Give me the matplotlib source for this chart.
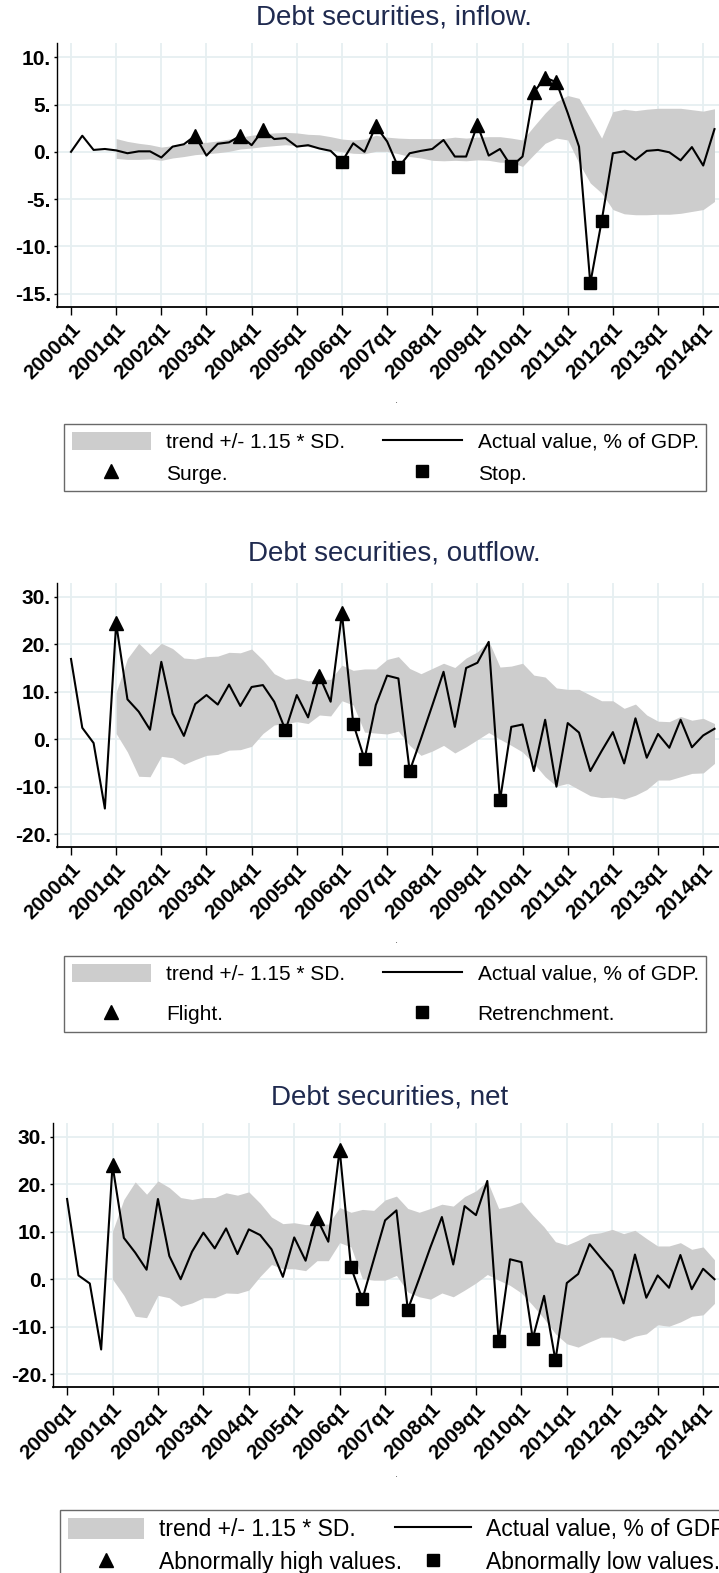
import numpy as np
import matplotlib
matplotlib.use("Agg")
import matplotlib.pyplot as plt

plt.rcParams["font.family"] = ["Liberation Sans", "DejaVu Sans"]

# quarters 2000q1 .. 2014q2
n_q = 58
quarters = np.arange(n_q)
year_ticks = np.arange(0, 57, 4)
year_labels = [f"{2000 + k}q1" for k in range(15)]

nan = np.nan

# ---- inflow ----
inflow = [0.0, 1.7, 0.2, 0.3, 0.15, -0.15, 0.05, 0.05, -0.6, 0.55,
          0.8, 1.7, -0.4, 0.85, 1.0, 1.7, 0.7, 2.3, 1.35, 1.45,
          0.55, 0.7, 0.35, 0.1, -1.05, 0.9, 0.0, 2.7, 1.1, -1.65,
          -0.15, 0.1, 0.3, 1.25, -0.5, -0.5, 2.85, -0.4, 0.3, -1.55,
          -0.5, 6.3, 7.85, 7.35, 4.1, 0.55, -13.9, -7.35, -0.15, 0.05,
          -0.85, 0.1, 0.2, -0.05, -0.9, 0.5, -1.45, 2.4]
inflow_hi = [nan, nan, nan, nan, 1.4, 1.1, 0.9, 0.75, 0.5, 0.65,
             0.8, 1.0, 1.0, 1.15, 1.35, 1.55, 1.75, 1.9, 2.0, 2.05,
             2.0, 1.85, 1.8, 1.6, 1.35, 1.25, 1.35, 1.75, 1.55, 1.45,
             1.4, 1.4, 1.4, 1.4, 1.55, 1.45, 1.55, 1.6, 1.6, 1.45,
             1.25, 2.7, 4.1, 5.3, 5.95, 5.65, 3.55, 1.45, 4.25, 4.5,
             4.35, 4.5, 4.6, 4.6, 4.6, 4.45, 4.3, 4.55]
inflow_lo = [nan, nan, nan, nan, -0.7, -0.8, -0.8, -0.75, -0.9, -0.65,
             -0.5, -0.3, -0.2, -0.1, 0.05, 0.3, 0.4, 0.55, 0.65, 0.75,
             0.65, 0.55, 0.4, 0.2, 0.0, -0.15, -0.2, 0.05, 0.05, -0.2,
             -0.5, -0.65, -0.9, -0.95, -0.9, -0.95, -0.85, -0.9, -1.1, -1.1,
             -1.55, -0.3, 0.9, 1.45, 1.25, -1.2, -3.3, -4.35, -6.1, -6.55,
             -6.65, -6.65, -6.6, -6.6, -6.5, -6.3, -6.1, -5.25]
inflow_high_idx = [11, 15, 17, 27, 36, 41, 42, 43]
inflow_low_idx = [24, 29, 39, 46, 47]

# ---- outflow ----
outflow = [16.9, 2.4, -0.8, -14.6, 24.4, 8.4, 5.8, 2.0, 16.3, 5.4,
           0.7, 7.4, 9.3, 7.3, 11.5, 7.0, 11.0, 11.4, 7.9, 1.9,
           9.3, 4.6, 13.3, 7.9, 26.5, 3.3, -4.2, 7.2, 13.4, 12.8,
           -6.7, 0.1, 7.1, 14.2, 2.6, 15.0, 16.1, 20.5, -12.9, 2.6,
           3.1, -6.7, 4.1, -10.0, 3.4, 1.4, -6.7, -2.5, 1.5, -5.1,
           4.4, -3.9, 1.1, -1.8, 4.1, -1.7, 0.8, 2.2]
outflow_hi = [nan, nan, nan, nan, 9.9, 17.0, 20.2, 17.9, 20.2, 19.1,
              17.1, 16.9, 17.4, 17.5, 18.3, 18.2, 19.0, 16.7, 13.8, 12.6,
              12.9, 12.3, 12.6, 12.6, 15.6, 14.5, 14.8, 14.8, 16.8, 17.4,
              14.9, 13.8, 14.9, 16.0, 15.1, 17.1, 18.4, 20.7, 15.2, 15.4,
              16.0, 13.5, 13.1, 10.8, 10.5, 10.5, 9.3, 8.1, 8.1, 6.5,
              7.4, 5.1, 3.8, 3.7, 4.8, 4.0, 4.4, 3.3]
outflow_lo = [nan, nan, nan, nan, 1.2, -2.7, -7.8, -7.9, -3.6, -3.9,
              -5.3, -4.3, -3.4, -3.2, -2.3, -2.2, -1.5, 1.2, 3.0, 3.3,
              3.7, 3.3, 5.1, 4.9, 8.1, 7.2, 1.5, 1.3, 1.1, 1.7,
              -1.3, -3.4, -2.5, -1.3, -2.9, -1.6, -0.1, 1.4, 0.0, -1.3,
              -2.7, -5.1, -7.9, -9.9, -9.3, -10.6, -11.9, -12.3, -12.2, -12.6,
              -11.8, -10.6, -8.6, -8.6, -7.9, -7.2, -7.1, -5.1]
outflow_high_idx = [4, 22, 24]
outflow_low_idx = [19, 25, 26, 30, 38]

# ---- net ----
net = [16.9, 0.8, -0.9, -14.8, 24.0, 8.7, 5.6, 2.0, 16.9, 4.9,
       0.0, 5.8, 9.8, 6.5, 10.7, 5.3, 10.5, 9.3, 6.3, 0.5,
       8.8, 3.9, 12.8, 7.9, 27.3, 2.5, -4.2, 4.1, 12.4, 14.5,
       -6.4, 0.1, 6.8, 13.1, 3.1, 15.4, 13.5, 20.7, -13.0, 4.2,
       3.6, -12.5, -3.5, -17.1, -0.8, 1.1, 7.4, 4.5, 1.7, -5.1,
       5.2, -3.9, 0.8, -1.8, 5.1, -2.1, 2.2, 0.0]
net_hi = [nan, nan, nan, nan, 10.1, 16.8, 20.5, 17.9, 20.7, 19.3,
          17.2, 16.8, 17.2, 17.2, 18.2, 17.7, 18.4, 16.0, 13.1, 11.7,
          11.9, 11.5, 11.6, 11.6, 15.1, 14.1, 14.7, 14.5, 16.7, 17.5,
          14.9, 14.1, 14.9, 15.8, 15.4, 17.4, 18.6, 20.7, 14.9, 15.4,
          16.3, 13.5, 11.0, 7.9, 7.2, 8.2, 9.5, 9.8, 10.5, 9.6,
          10.3, 8.6, 7.0, 7.0, 7.7, 6.3, 6.8, 4.1]
net_lo = [nan, nan, nan, nan, 0.0, -3.4, -7.8, -8.1, -3.4, -3.9,
          -5.7, -5.0, -3.9, -3.9, -2.9, -3.0, -2.3, 0.6, 3.1, 2.2,
          2.2, 1.8, 3.9, 3.9, 7.7, 6.8, 0.1, -0.2, -0.2, 0.8,
          -2.7, -3.7, -4.2, -2.9, -3.7, -2.3, -0.8, 1.0, -0.2, -1.3,
          -2.9, -5.5, -8.3, -11.5, -13.6, -14.3, -13.2, -12.2, -12.2, -13.0,
          -12.0, -11.5, -9.6, -9.9, -9.0, -7.8, -7.5, -5.1]
net_high_idx = [4, 22, 24]
net_low_idx = [25, 26, 30, 38, 41, 43]

titles = ["Debt securities, inflow.", "Debt securities, outflow.", "Debt securities, net"]
band_label = "trend +/- 1.15 * SD."
line_label = "Actual value, % of GDP."
high_labels = ["Surge.", "Flight.", "Abnormally high values."]
low_labels = ["Stop.", "Retrenchment.", "Abnormally low values."]

W, H = 719, 1573
fig = plt.figure(figsize=(W / 100, H / 100), dpi=100)

panels = [
    dict(vals=inflow, lo=inflow_lo, hi=inflow_hi, hidx=inflow_high_idx, lidx=inflow_low_idx,
         box=(57, 43, 307), ylim=(-16.4, 11.5), yticks=[-15, -10, -5, 0, 5, 10],
         title_y=18, title_x=394, dot_y=400,
         leg=(64, 424), legfs=15, ls=0.54, hl=3.8, htp=0.75, colsp=1.8),
    dict(vals=outflow, lo=outflow_lo, hi=outflow_hi, hidx=outflow_high_idx, lidx=outflow_low_idx,
         box=(57, 583, 847), ylim=(-22.7, 32.9), yticks=[-20, -10, 0, 10, 20, 30],
         title_y=553, title_x=394, dot_y=940,
         leg=(64, 956), legfs=15, ls=0.95, hl=3.8, htp=0.75, colsp=1.8),
    dict(vals=net, lo=net_lo, hi=net_hi, hidx=net_high_idx, lidx=net_low_idx,
         box=(53, 1123, 1387), ylim=(-22.7, 32.9), yticks=[-20, -10, 0, 10, 20, 30],
         title_y=1097, title_x=390, dot_y=1474,
         leg=(60, 1510), legfs=16.5, ls=0.4, hl=3.3, htp=0.66, colsp=-0.3),
]

band_color = "#cdcdcd"
grid_color = "#e6eff1"
title_color = "#1f2a4f"

for k, p in enumerate(panels):
    left, top, bottom = p["box"]
    ax = fig.add_axes([left / W, 1 - bottom / H, 1 - left / W, (bottom - top) / H])
    vals = np.array(p["vals"])
    band = ax.fill_between(quarters, p["lo"], p["hi"], color=band_color, lw=0,
                           label=band_label, zorder=2)
    line, = ax.plot(quarters, vals, color="black", lw=1.5, label=line_label, zorder=3)
    hi_m, = ax.plot(quarters[p["hidx"]], vals[p["hidx"]], "^", color="black", ms=10,
                    ls="none", label=high_labels[k], zorder=4)
    lo_m, = ax.plot(quarters[p["lidx"]], vals[p["lidx"]], "s", color="black", ms=8,
                    ls="none", label=low_labels[k], zorder=4)

    ax.set_xlim(-1.24, 57.4)
    ax.set_ylim(*p["ylim"])
    ax.set_xticks(year_ticks)
    ax.set_xticklabels(year_labels, rotation=45, ha="right", rotation_mode="anchor",
                       fontsize=15, fontweight="bold")
    ax.set_yticks(p["yticks"])
    ax.set_yticklabels([f"{t}." for t in p["yticks"]], fontsize=15, fontweight="bold")
    ax.tick_params(axis="x", length=6, width=1, pad=3)
    ax.tick_params(axis="y", length=2.5, width=1, pad=2)
    ax.grid(True, color=grid_color, lw=1.3, zorder=0)
    ax.set_axisbelow(True)
    for s in ["top", "right"]:
        ax.spines[s].set_visible(False)
    ax.spines["left"].set_linewidth(1.0)
    ax.spines["bottom"].set_linewidth(1.3)

    fig.text(p["title_x"] / W, 1 - p["title_y"] / H, titles[k], ha="center", va="center",
             fontsize=20, color=title_color)
    fig.text(397 / W, 1 - p["dot_y"] / H, ".", ha="center", va="center",
             fontsize=8, color="#555555")

    lx, ly = p["leg"]
    leg = fig.legend(handles=[band, hi_m, line, lo_m], ncol=2, loc="upper left",
                     bbox_to_anchor=(lx / W, 1 - ly / H), bbox_transform=fig.transFigure,
                     fontsize=p["legfs"], frameon=True, fancybox=False, shadow=False,
                     borderpad=0.36, labelspacing=p["ls"], handlelength=p["hl"],
                     handleheight=1.0, handletextpad=p["htp"], columnspacing=p["colsp"],
                     borderaxespad=0)
    leg.get_frame().set_edgecolor("#444444")
    leg.get_frame().set_linewidth(1.0)

fig.savefig("out.png", dpi=100)
